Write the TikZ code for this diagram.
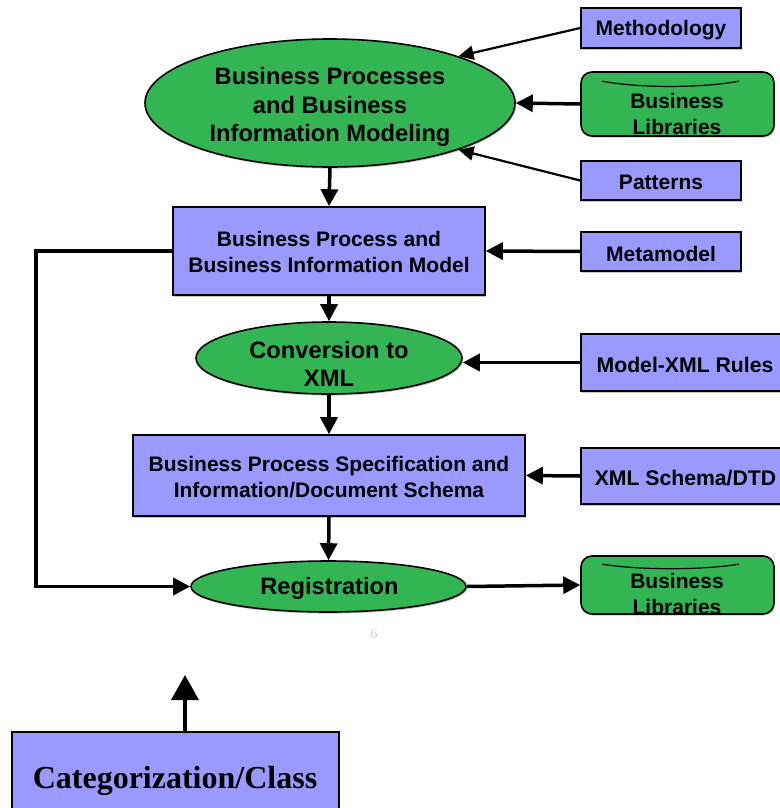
\documentclass[tikz,border=0pt]{standalone}
\usepackage{fontspec}
\setmainfont{Liberation Sans}
\newfontfamily\titleserif{Liberation Serif}
\usetikzlibrary{arrows.meta,shapes.geometric,calc,shadows}

\definecolor{procgreen}{RGB}{51,181,84}
\definecolor{boxblue}{RGB}{153,153,255}

\begin{document}
\begin{tikzpicture}[x=1pt,y=-1pt,
  softshadow/.style={drop shadow={opacity=0.45, shadow xshift=1.2pt, shadow yshift=-1.6pt}},
  box/.style={draw=black, line width=1.6pt, fill=boxblue, inner sep=0pt, softshadow},
  proc/.style={ellipse, draw=black, line width=1.6pt, fill=procgreen, inner sep=0pt, softshadow},
  lib/.style={draw=black, line width=1.6pt, fill=procgreen, rounded corners=11pt, inner sep=0pt, softshadow},
  label/.style={inner sep=0pt, align=center, font=\bfseries\fontsize{21}{26}\selectfont},
  biglabel/.style={inner sep=0pt, align=center, font=\bfseries\fontsize{23.7}{28.5}\selectfont},
  smalllabel/.style={inner sep=0pt, align=center, font=\bfseries\fontsize{21.2}{24}\selectfont},
  flow/.style={line width=3.5pt, -{Triangle[length=17pt,width=17pt]}},
  feed/.style={line width=2.2pt, -{Triangle[length=15pt,width=14pt]}},
]
\useasboundingbox (0,0) rectangle (779,808);

% main process chain
\node[proc, minimum width=370, minimum height=128] (bpm) at (330,103) {};
\node[biglabel] (bpmtext) at (330,107) {Business Processes\\and Business\\Information Modeling};

\node[box, minimum width=312, minimum height=88] (bpbox) at (329,251) {};
\node[label] (bpboxtext) at (329,252) {Business Process and\\Business Information Model};

\node[proc, minimum width=266, minimum height=72] (conv) at (329,358) {};
\node[biglabel] (convtext) at (329,364) {Conversion to\\XML};

\node[box, minimum width=392, minimum height=81] (spec) at (329,475.5) {};
\node[label] (spectext) at (329,477) {Business Process Specification and\\Information/Document Schema};

\node[proc, minimum width=275, minimum height=51] (reg) at (328.5,586.5) {};
\node[biglabel] (regtext) at (329.5,588) {Registration};

% inputs on the right
\node[box, minimum width=160, minimum height=40] (meth) at (661,28) {};
\node[label] (methtext) at (661,30.5) {Methodology};

\node[lib, minimum width=193, minimum height=64] (libA) at (677.5,104) {};
\draw[line width=1.2pt] ($(libA.north west)+(22,10)$) .. controls ($(libA.north west)+(59,17)$) and ($(libA.north east)+(-73,17)$) .. ($(libA.north east)+(-36,10)$);
\node[label] (libAtext) at (677,114) {Business\\Libraries};

\node[box, minimum width=160, minimum height=39] (pat) at (661,180.5) {};
\node[label] (pattext) at (661,182.5) {Patterns};

\node[box, minimum width=160, minimum height=39] (meta) at (661,251.5) {};
\node[label] (metatext) at (661,253.5) {Metamodel};

\node[box, minimum width=209, minimum height=57] (mxr) at (685.5,362.5) {};
\node[smalllabel] (mxrtext) at (685,364.5) {Model-XML Rules};

\node[box, minimum width=209, minimum height=56] (xsd) at (685.5,476) {};
\node[smalllabel] (xsdtext) at (685.5,478) {XML Schema/DTD};

\node[lib, minimum width=193, minimum height=58] (libB) at (677.5,585) {};
\draw[line width=1.2pt] ($(libB.north west)+(22,9)$) .. controls ($(libB.north west)+(59,15)$) and ($(libB.north east)+(-73,15)$) .. ($(libB.north east)+(-36,9)$);
\node[label] (libBtext) at (677,594) {Business\\Libraries};

% page number
\node[font=\titleserif\fontsize{14}{14}\selectfont, text=black!18, inner sep=0pt] (pagenum) at (374,634) {6};

% category box at the bottom
\node[draw=black, line width=1.6pt, fill=boxblue, minimum width=327, minimum height=96, inner sep=0pt] (cat) at (175.5,780) {};
\node[font=\titleserif\bfseries\fontsize{32}{36}\selectfont, inner sep=0pt, anchor=base] (cattext) at (175,788) {Categorization/Class};
\coordinate (catup) at (185,675);

% connectors
\draw[flow] (bpm.south) -- (bpbox.north);
\draw[flow] (bpbox.south) -- (conv.north);
\draw[flow] (conv.south) -- (spec.north);
\draw[flow] (spec.south) -- (reg.north);

\draw[feed] (meth.west) -- (bpm.20);
\draw[flow] (libA.west) -- (bpm.east);
\draw[feed] (pat.west) -- (bpm.-20);
\draw[flow] (meta.west) -- (bpbox.east);
\draw[flow] (mxr.west) -- (mxr.west -| conv.east);
\draw[flow] (xsd.west) -- (spec.east);
\draw[flow] (reg.east) -- (libB.west);

\draw[flow] (bpbox.west) -- ++(-136,0) |- (reg.west);

\draw[line width=3.5pt, -{Triangle[length=25pt,width=27pt]}] (cat.north -| catup) -- (catup);
\end{tikzpicture}
\end{document}
